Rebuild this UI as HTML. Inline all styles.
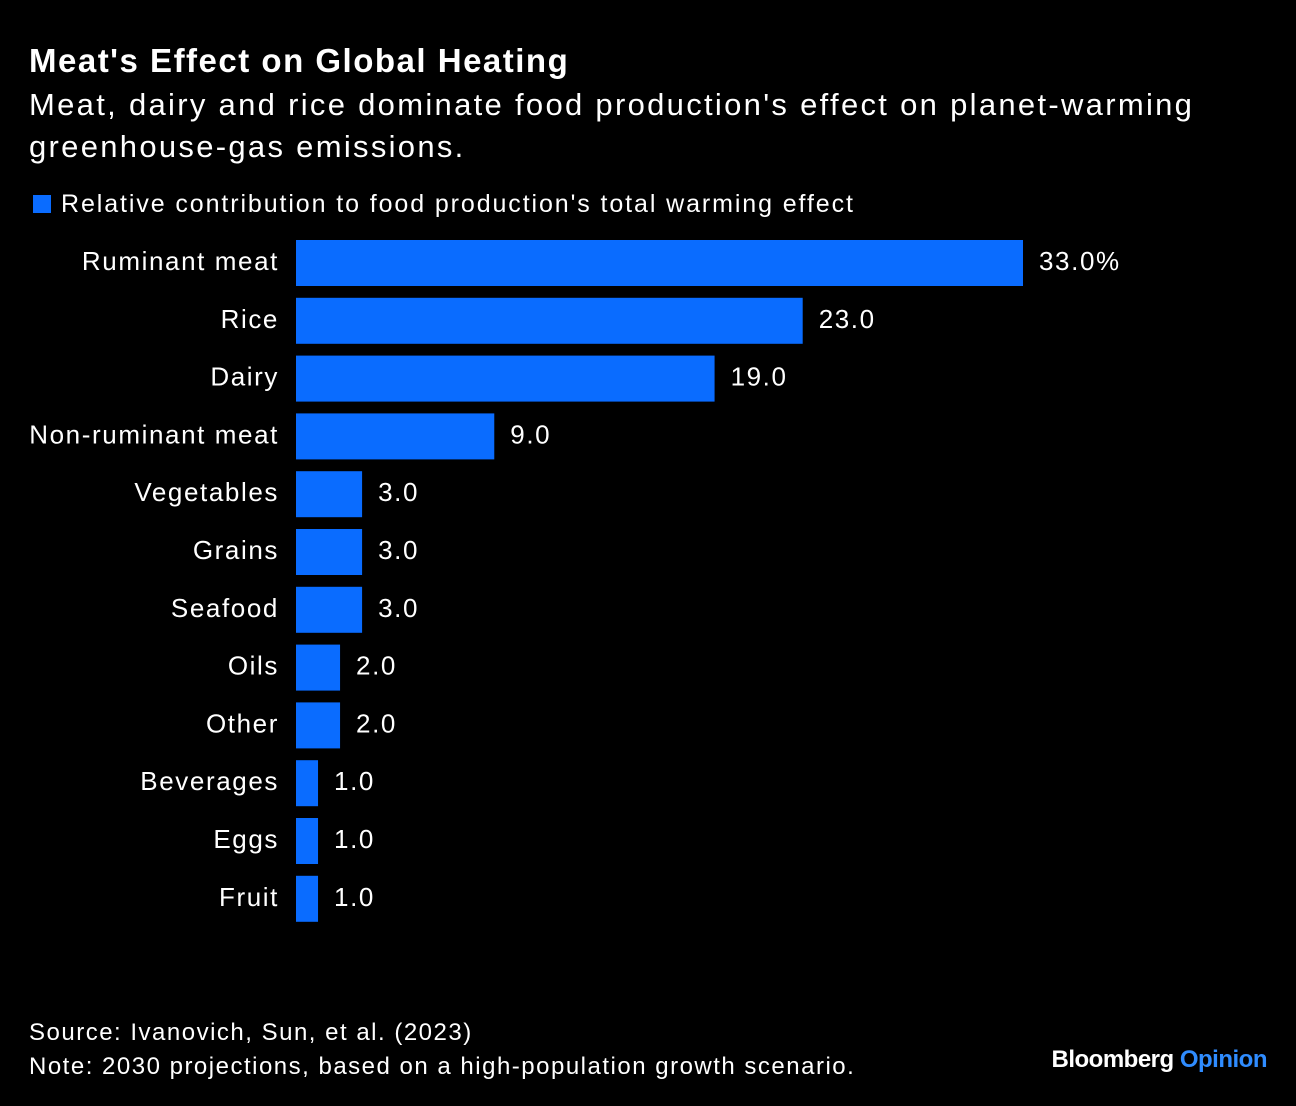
<!DOCTYPE html>
<html><head><meta charset="utf-8">
<style>
body{margin:0;background:#000;width:1296px;height:1106px;overflow:hidden;font-family:"Liberation Sans",Arial,sans-serif;color:#fff}
.abs{position:absolute;white-space:nowrap}
</style></head>
<body>
<div class="abs" style="left:29px;top:42px;font-size:33px;font-weight:bold;letter-spacing:1.5px">Meat's Effect on Global Heating</div>
<div class="abs" style="left:29px;top:84px;font-size:31px;line-height:42px;letter-spacing:2.3px">Meat, dairy and rice dominate food production's effect on planet-warming<br>greenhouse-gas emissions.</div>
<div class="abs" style="left:33px;top:190px;font-size:25px;letter-spacing:1.9px">
<span style="display:inline-block;width:18px;height:18px;background:#0a6cff;vertical-align:-1px;margin-right:10px"></span>Relative contribution to food production's total warming effect</div>
<svg id="chart" class="abs" style="left:0;top:0" width="1296" height="1000"></svg>
<div class="abs" style="left:29px;top:1016px;font-size:24px;line-height:34px;letter-spacing:1.5px">Source: Ivanovich, Sun, et al. (2023)<br>Note: 2030 projections, based on a high-population growth scenario.</div>
<div class="abs" style="right:29px;top:1046px;font-size:24px;font-weight:bold;letter-spacing:-0.5px">Bloomberg <span style="color:#2f8cff">Opinion</span></div>
<script>
const categories=["Ruminant meat","Rice","Dairy","Non-ruminant meat","Vegetables","Grains","Seafood","Oils","Other","Beverages","Eggs","Fruit"];
const values=[33,23,19,9,3,3,3,2,2,1,1,1];
const valueLabels=["33.0%","23.0","19.0","9.0","3.0","3.0","3.0","2.0","2.0","1.0","1.0","1.0"];
const svg=document.getElementById('chart');
const NS='http://www.w3.org/2000/svg';
const x0=296,pxPer=727/33;
const xs=v=>x0+v*pxPer;
const ys=i=>240+i*57.8;
const bh=46;
categories.forEach((c,i)=>{
  const r=document.createElementNS(NS,'rect');
  r.setAttribute('x',x0);r.setAttribute('y',ys(i));
  r.setAttribute('width',xs(values[i])-x0);r.setAttribute('height',bh);
  r.setAttribute('fill','#0a6cff');
  
  
  svg.appendChild(r);
  const t=document.createElementNS(NS,'text');
  t.setAttribute('x',279);t.setAttribute('y',ys(i)+bh/2+7);
  t.setAttribute('text-anchor','end');t.setAttribute('fill','#fff');
  t.setAttribute('font-size','26');t.setAttribute('font-family','Liberation Sans, Arial, sans-serif');
  t.setAttribute('letter-spacing','1.6');
  t.textContent=c;
  
  
  svg.appendChild(t);
  const v=document.createElementNS(NS,'text');
  v.setAttribute('x',xs(values[i])+16);v.setAttribute('y',ys(i)+bh/2+7);
  v.setAttribute('fill','#fff');
  v.setAttribute('font-size','26');v.setAttribute('font-family','Liberation Sans, Arial, sans-serif');
  v.setAttribute('letter-spacing','1.6');
  v.textContent=valueLabels[i];
  
  
  svg.appendChild(v);
});
</script>
</body></html>
